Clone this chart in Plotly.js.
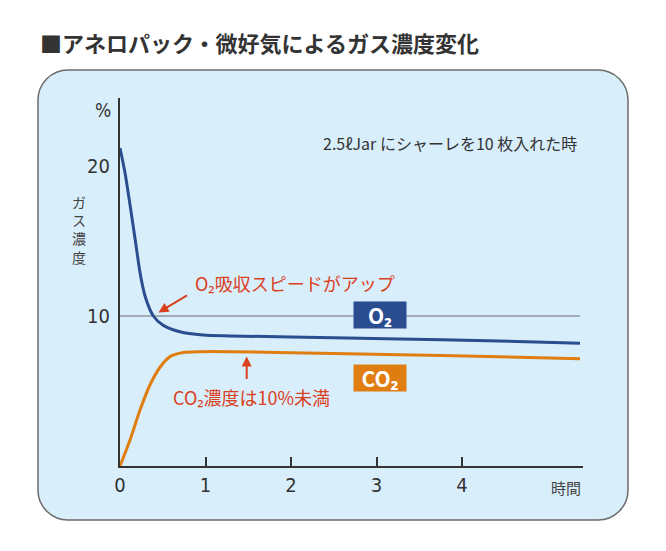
<!DOCTYPE html>
<html>
<head>
<meta charset="utf-8">
<script src="https://cdn.plot.ly/plotly-3.0.1.min.js"></script>
<style>
  html, body { margin: 0; padding: 0; background: #ffffff; }
  #chart { width: 666px; height: 551px; }
</style>
</head>
<body>
<div id="chart"></div>
<script>
// ---- data ----
const hours = [0, 1, 2, 3, 4];
const tickLabels = ["0", "1", "2", "3", "4"];
const yTicks = [10, 20];
const yTickLabels = ["10", "20"];

const o2Time = [0, 0.06, 0.12, 0.18, 0.24, 0.30, 0.39, 0.50, 0.70, 0.97, 1.29, 2.0, 3.27, 4.3, 5.38];
const o2Conc = [21.2, 19.5, 17.3, 15.0, 12.7, 11.2, 10.0, 9.4, 8.95, 8.73, 8.67, 8.6, 8.47, 8.35, 8.18];

const co2Time = [0, 0.117, 0.234, 0.35, 0.47, 0.585, 0.74, 0.94, 1.29, 2.0, 3.27, 4.3, 5.38];
const co2Conc = [0, 1.73, 3.73, 5.4, 6.6, 7.29, 7.56, 7.62, 7.62, 7.55, 7.42, 7.3, 7.15];

const refLevel = 10;

const titleText = "■アネロパック・微好気によるガス濃度変化";
const noteText = "2.5ℓJar にシャーレを10 枚入れた時";
const o2Note = "O₂吸収スピードがアップ";
const co2Note = "CO₂濃度は10%未満";
const yTitleChars = ["ガ", "ス", "濃", "度"];
const xUnit = "時間";
const yUnit = "%";

// ---- layout helpers (pixel -> paper) ----
const W = 666, H = 551;
const M = { l: 120, r: 83, t: 98, b: 85 };
const PW = W - M.l - M.r, PH = H - M.t - M.b;
const px = v => (v - M.l) / PW;
const py = v => (H - M.b - v) / PH;

function roundRect(x0, y0, x1, y1, r) {
  const k = r * 0.5523;
  const P = (x, y) => px(x).toFixed(5) + "," + py(y).toFixed(5);
  return "M" + P(x0 + r, y0) +
    " L" + P(x1 - r, y0) +
    " C" + P(x1 - r + k, y0) + " " + P(x1, y0 + r - k) + " " + P(x1, y0 + r) +
    " L" + P(x1, y1 - r) +
    " C" + P(x1, y1 - r + k) + " " + P(x1 - r + k, y1) + " " + P(x1 - r, y1) +
    " L" + P(x0 + r, y1) +
    " C" + P(x0 + r - k, y1) + " " + P(x0, y1 - r + k) + " " + P(x0, y1 - r) +
    " L" + P(x0, y0 + r) +
    " C" + P(x0, y0 + r - k) + " " + P(x0 + r - k, y0) + " " + P(x0 + r, y0) + " Z";
}

const JP = '"Noto Sans CJK JP", "Noto Sans", sans-serif';
const NUM = '"Liberation Sans Narrow", "DejaVu Sans Condensed", "Roboto", sans-serif';
const RED = "#d9411e";
const BLUE = "#2a4d8f";
const ORANGE = "#e07d10";

const traces = [
  { x: o2Time, y: o2Conc, mode: "lines", line: { color: BLUE, width: 3, shape: "spline", smoothing: 0.8 }, hoverinfo: "skip", showlegend: false },
  { x: co2Time, y: co2Conc, mode: "lines", line: { color: ORANGE, width: 3, shape: "spline", smoothing: 0.8 }, hoverinfo: "skip", showlegend: false }
];

const annotations = [
  { text: noteText, xref: "paper", yref: "paper", x: px(449.5), y: py(143), xanchor: "center", yanchor: "middle", showarrow: false, font: { family: JP, size: 16, color: "#333" } },
  { text: yUnit, xref: "paper", yref: "paper", x: px(113), y: py(110), xanchor: "right", yanchor: "middle", showarrow: false, font: { family: NUM, size: 19, color: "#333" } },
  { text: xUnit, xref: "paper", yref: "paper", x: px(583), y: py(487), xanchor: "right", yanchor: "middle", showarrow: false, font: { family: JP, size: 15, color: "#444" } },
  { text: o2Note, xref: "paper", yref: "paper", x: px(295), y: py(283), xanchor: "center", yanchor: "middle", showarrow: false, font: { family: JP, size: 18, color: RED } },
  { text: co2Note, xref: "paper", yref: "paper", x: px(251), y: py(397), xanchor: "center", yanchor: "middle", showarrow: false, font: { family: JP, size: 18, color: RED } },
  { text: "", xref: "paper", yref: "paper", x: px(158.5), y: py(312.5), ax: 30, ay: -18, showarrow: true, arrowhead: 2, arrowsize: 1, arrowwidth: 2, arrowcolor: RED },
  { text: "", xref: "paper", yref: "paper", x: px(246.7), y: py(356.5), ax: 0, ay: 24, showarrow: true, arrowhead: 2, arrowsize: 1, arrowwidth: 2, arrowcolor: RED },
  { text: "<b>O₂</b>", xref: "paper", yref: "paper", x: px(380), y: py(314.7), xanchor: "center", yanchor: "middle", showarrow: false, width: 52, height: 26, borderpad: 0, bgcolor: BLUE, font: { family: JP, size: 21, color: "#fff" } },
  { text: "<b>CO₂</b>", xref: "paper", yref: "paper", x: px(380), y: py(378), xanchor: "center", yanchor: "middle", showarrow: false, width: 52, height: 26, borderpad: 0, bgcolor: ORANGE, font: { family: JP, size: 21, color: "#fff" } },
  { text: yTitleChars.join("<br>"), xref: "paper", yref: "paper", x: px(79), y: py(229), xanchor: "center", yanchor: "middle", showarrow: false, font: { family: JP, size: 14, color: "#444" } }
];

const layout = {
  width: W, height: H,
  margin: M,
  paper_bgcolor: "#ffffff",
  plot_bgcolor: "rgba(0,0,0,0)",
  title: { text: "<b>" + titleText + "</b>", xref: "container", yref: "container", x: 40 / W, xanchor: "left", y: 1 - 44 / H, yanchor: "middle", font: { family: JP, size: 22, color: "#333" } },
  xaxis: {
    range: [0, 5.415], showline: true, linecolor: "#333", linewidth: 2, zeroline: false, showgrid: false,
    tickvals: hours, ticktext: tickLabels, ticks: "inside", ticklen: 9, tickwidth: 2, tickcolor: "#333",
    tickfont: { family: NUM, size: 20, color: "#333" }, fixedrange: true
  },
  yaxis: {
    range: [0, 24.53], showline: true, linecolor: "#333", linewidth: 2, zeroline: false, showgrid: false,
    tickvals: yTicks, ticktext: yTickLabels, ticks: "", ticklabelstandoff: 4,
    tickfont: { family: NUM, size: 20, color: "#333" }, fixedrange: true
  },
  shapes: [
    { type: "path", xref: "paper", yref: "paper", path: roundRect(38, 70, 628, 520, 30), fillcolor: "#d9eefb", line: { color: "#6b6b6b", width: 1.5 }, layer: "below" },
    { type: "line", xref: "x", yref: "y", x0: 0, x1: 5.38, y0: refLevel, y1: refLevel, line: { color: "#8c979d", width: 1.5 }, layer: "below" }
  ],
  annotations: annotations
};

Plotly.newPlot("chart", traces, layout, { staticPlot: true, displayModeBar: false });
</script>
</body>
</html>
